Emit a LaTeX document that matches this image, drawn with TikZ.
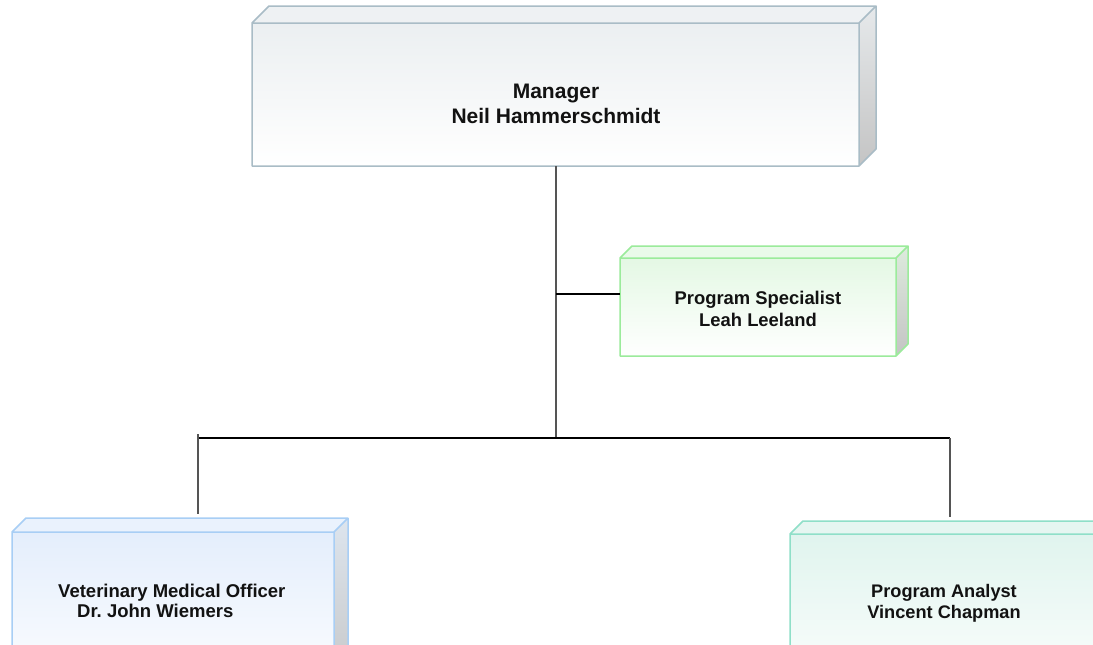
\documentclass[tikz,border=0pt]{standalone}
\usepackage{fontspec}
\setmainfont{Liberation Sans}
\usetikzlibrary{calc}
\frenchspacing
\definecolor{mgrB}{HTML}{A9BCC6}\definecolor{mgrF}{HTML}{EBEFF1}\definecolor{mgrT}{HTML}{EEF1F3}\definecolor{mgrS}{HTML}{E6E9EB}
\definecolor{psB}{HTML}{9BEB9B}\definecolor{psF}{HTML}{E4F8E4}\definecolor{psT}{HTML}{EAFAEA}\definecolor{psS}{HTML}{DDEBDD}
\definecolor{vetB}{HTML}{A8CEF5}\definecolor{vetF}{HTML}{E4EEFC}\definecolor{vetT}{HTML}{EAF2FD}\definecolor{vetS}{HTML}{DDE5EE}
\definecolor{anB}{HTML}{8FDFC8}\definecolor{anF}{HTML}{E0F4EE}\definecolor{anT}{HTML}{E6F6F1}\definecolor{anS}{HTML}{DAEBE6}
\definecolor{sideBot}{HTML}{C4C4C4}
\definecolor{vline}{HTML}{555555}
% #1 node, #2 depth, #3 prefix
\newcommand\drawcube[3]{%
  \fill[#3T] (#1.north west) -- ++(#2,-#2) -- ($(#1.north east)+(#2,-#2)$) -- (#1.north east) -- cycle;
  \shade[top color=#3S, bottom color=sideBot] (#1.north east) -- ++(#2,-#2) -- ($(#1.south east)+(#2,-#2)$) -- (#1.south east) -- cycle;
  \shade[top color=#3F, bottom color=white] (#1.north west) rectangle (#1.south east);
  \draw[#3B, line width=1.5pt, line join=round] (#1.south west) -- (#1.north west) -- ++(#2,-#2) -- ($(#1.north east)+(#2,-#2)$) -- ($(#1.south east)+(#2,-#2)$) -- (#1.south east) -- cycle
    (#1.north west) -- (#1.north east) -- ++(#2,-#2) (#1.north east) -- (#1.south east);
}
\tikzset{
  frontbox/.style={inner sep=0pt, outer sep=0pt, draw=none},
  hline/.style={black, line width=1.5pt},
  vlinest/.style={vline, line width=1.5pt},
  bigtxt/.style={anchor=base, inner sep=0pt, font=\bfseries\fontsize{21}{25}\selectfont, text=black!93},
  smtxt/.style={anchor=base, inner sep=0pt, font=\bfseries\fontsize{18.4}{22}\selectfont, text=black!93},
  smtxtw/.style={anchor=base west, inner sep=0pt, font=\bfseries\fontsize{18.5}{22}\selectfont, text=black!93}
}
\begin{document}
\begin{tikzpicture}[x=1pt, y=-1pt]
\useasboundingbox (0,0) rectangle (1093,645);
\clip (0,0) rectangle (1093,645);
\fill[white] (0,0) rectangle (1093,645);
% box fronts
\node[frontbox, minimum width=607pt, minimum height=143pt] (mgr) at (555.5,94.5) {};
\node[frontbox, minimum width=276pt, minimum height=98pt] (ps) at (758,307) {};
\node[frontbox, minimum width=322pt, minimum height=170pt] (vet) at (173,617) {};
\node[frontbox, minimum width=310pt, minimum height=170pt] (an) at (945,619) {};
\drawcube{mgr}{17}{mgr}
\drawcube{ps}{12}{ps}
\drawcube{vet}{14}{vet}
\drawcube{an}{13}{an}
% connector points
\coordinate (bus) at (556,438);
\coordinate (tap) at (556,294);
\coordinate (busL) at (198,438);
\coordinate (busR) at (950,438);
\coordinate (vetTop) at (198,514);
\coordinate (anTop) at (950,517);
% connectors
\draw[vlinest] (mgr.south -| bus) -- (bus);
\draw[hline] (tap) -- (ps.west |- tap);
\draw[hline] (busL) -- (busR);
\draw[vlinest] ($(busL)+(0,-4)$) -- (vetTop);
\draw[vlinest] (busR) -- (anTop);
% texts
\node[bigtxt] (mgr1) at (556,98) {Manager};
\node[bigtxt] (mgr2) at (556,123) {Neil Hammerschmidt};
\node[smtxt] (ps1) at (758,304) {Program Specialist};
\node[smtxt] (ps2) at (758,326) {Leah Leeland};
\node[smtxtw] (vet1) at (58,597) {Veterinary Medical Officer};
\node[smtxtw] (vet2) at (77,617) {Dr. John Wiemers};
\node[smtxt, font=\bfseries\fontsize{18.2}{22}\selectfont] (an1) at (944,597) {Program Analyst};
\node[smtxt, font=\bfseries\fontsize{18.2}{22}\selectfont] (an2) at (944,618) {Vincent Chapman};
\end{tikzpicture}
\end{document}
